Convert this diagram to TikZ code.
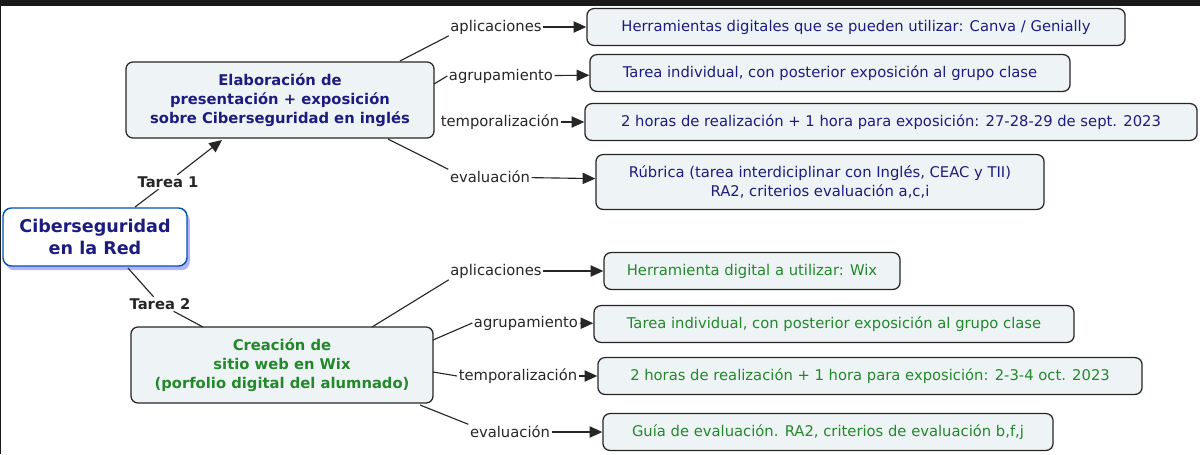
\documentclass[tikz,border=0pt]{standalone}
\usepackage{fontspec}
\setmainfont{DejaVu Sans}
\usetikzlibrary{arrows.meta,shadows}
\definecolor{navy}{HTML}{1C1C7E}
\definecolor{verde}{HTML}{22882A}
\definecolor{fondo}{HTML}{EEF4F6}
\tikzset{
  caja/.style={draw=black!85, line width=0.9pt, rounded corners=5pt, fill=fondo, inner xsep=6pt, inner ysep=4pt, minimum height=0.92cm, align=center, font=\fontsize{10.5}{13}\selectfont},
  tarea/.style={caja, font=\bfseries\fontsize{10.5}{13.5}\selectfont, minimum height=1.9cm},
  enlace/.style={font=\fontsize{10.5}{13}\selectfont, text=black!85, inner sep=1pt},
  flecha/.style={line width=0.8pt, black!85, -{Triangle[length=9pt,width=8pt]}},
  linea/.style={line width=0.8pt, black!85}
}
\begin{document}
\begin{tikzpicture}[x=0.025cm,y=-0.025cm]
      \useasboundingbox (0,0) rectangle (1200,454);
      \fill[black!90] (0,0) rectangle (1200,6);
      \fill[black!90] (0,0) rectangle (1.5,454);

      % nodo central
      \node (raiz) at (95,237) [draw=blue!55!cyan!70!black, line width=1pt, rounded corners=6pt, fill=white, text=navy, align=center, minimum width=4.6cm, minimum height=1.45cm, font=\bfseries\fontsize{12.5}{16}\selectfont, drop shadow={shadow xshift=2pt, shadow yshift=-3pt, fill=blue!30, opacity=1}]{Ciberseguridad\\en la Red};

      \node (t1) at (280,100) [tarea, text=navy, minimum width=7.7cm]{Elaboración de\\presentación + exposición\\sobre Ciberseguridad en inglés};
      \node (t2) at (282,365) [tarea, text=verde, minimum width=7.55cm]{Creación de\\sitio web en Wix\\(porfolio digital del alumnado)};

      \node (et1) at (168,182) [enlace, font=\bfseries\fontsize{10.5}{13}\selectfont]{Tarea 1};
      \node (et2) at (160,304) [enlace, font=\bfseries\fontsize{10.5}{13}\selectfont]{Tarea 2};
      \draw[linea] (135,207) -- (et1);
      \draw[flecha] (et1) -- (222,140);
      \draw[linea] (128,268) -- (et2);
      \draw[linea] (et2) -- (203,327);

      % tarea 1
      \node (a1) at (856,27) [caja, text=navy, minimum width=13.45cm]{Herramientas digitales que se pueden utilizar: Canva / Genially};
      \node (a2) at (830,73) [caja, text=navy, minimum width=12cm]{Tarea individual, con posterior exposición al grupo clase};
      \node (a3) at (891,122) [caja, text=navy, minimum width=15.3cm]{2 horas de realización + 1 hora para exposición: 27-28-29 de sept. 2023};
      \node (a4) at (820,182) [caja, text=navy, minimum width=11.2cm, minimum height=1.37cm]{Rúbrica (tarea interdiciplinar con Inglés, CEAC y TII)\\RA2, criterios evaluación a,c,i};

      \node (la1) at (496,27) [enlace]{aplicaciones};
      \node (la2) at (501,76) [enlace]{agrupamiento};
      \node (la3) at (500,122) [enlace]{temporalización};
      \node (la4) at (490,177) [enlace]{evaluación};

      \draw[linea] (400,61) -- (la1.south west);
      \draw[linea] (434,84) -- (la2.west);
      \draw[linea] (388,139) -- (la4.north west);
      \draw[flecha] (la1) -- (a1);
      \draw[flecha] (la2) -- (a2);
      \draw[flecha] (la3) -- (a3);
      \draw[flecha] (la4) -- (a4);

      % tarea 2
      \node (b1) at (752,271) [caja, text=verde, minimum width=7.4cm]{Herramienta digital a utilizar: Wix};
      \node (b2) at (834,324) [caja, text=verde, minimum width=12cm]{Tarea individual, con posterior exposición al grupo clase};
      \node (b3) at (870,376) [caja, text=verde, minimum width=13.6cm]{2 horas de realización + 1 hora para exposición: 2-3-4 oct. 2023};
      \node (b4) at (828,432) [caja, text=verde, minimum width=11.25cm]{Guía de evaluación. RA2, criterios de evaluación b,f,j};

      \node (lb1) at (496,271) [enlace]{aplicaciones};
      \node (lb2) at (526,323) [enlace]{agrupamiento};
      \node (lb3) at (518,376) [enlace]{temporalización};
      \node (lb4) at (510,432) [enlace]{evaluación};

      \draw[linea] (372,327) -- (lb1.south west);
      \draw[linea] (433,340) -- (lb2.west);
      \draw[linea] (433,372) -- (lb3.west);
      \draw[linea] (420,405) -- (lb4.north west);
      \draw[flecha] (lb1) -- (b1);
      \draw[flecha] (lb2) -- (b2);
      \draw[flecha] (lb3) -- (b3);
      \draw[flecha] (lb4) -- (b4);
\end{tikzpicture}
\end{document}
